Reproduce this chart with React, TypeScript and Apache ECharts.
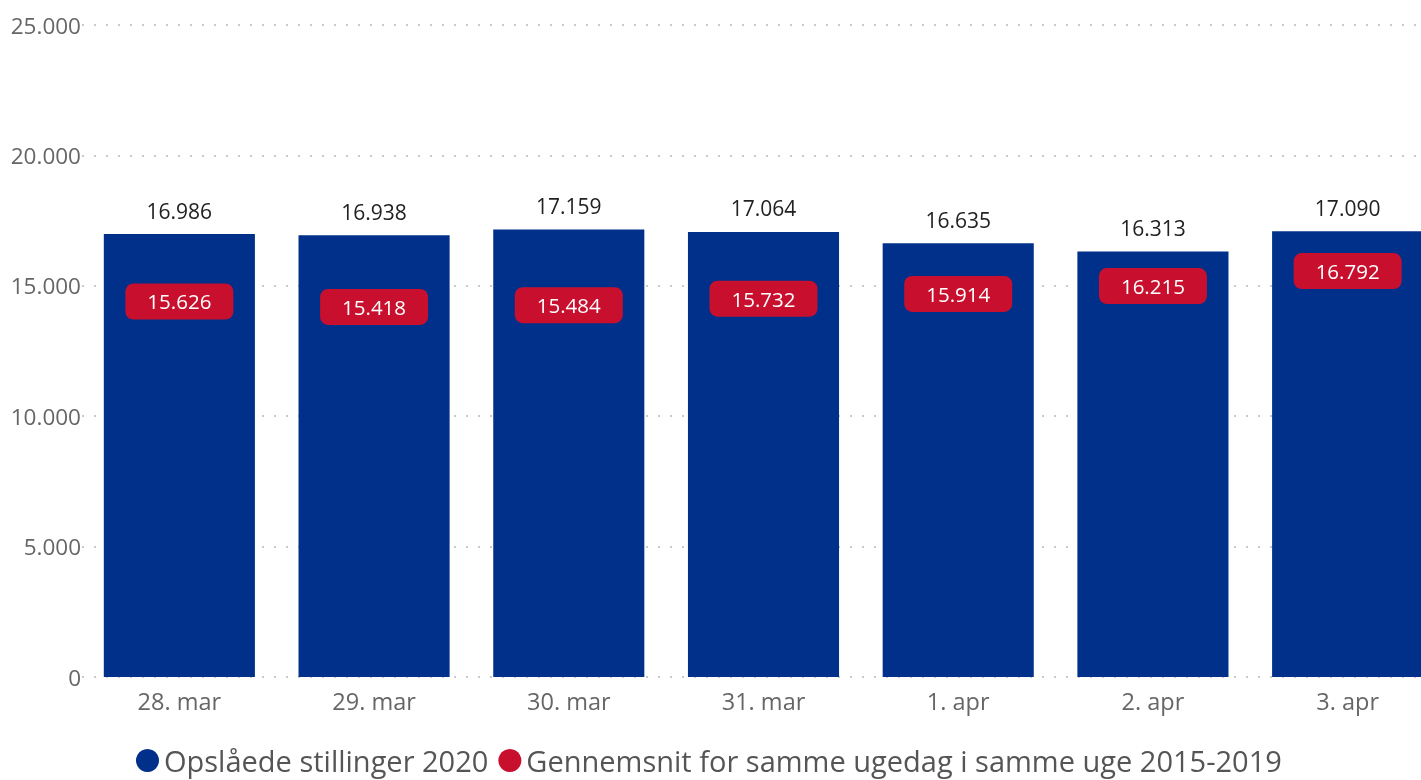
import React, { useEffect, useRef } from "react";
import * as echarts from "echarts";

const categories = ["28. mar", "29. mar", "30. mar", "31. mar", "1. apr", "2. apr", "3. apr"];
const postings2020 = [16986, 16938, 17159, 17064, 16635, 16313, 17090];
const average20152019 = [15626, 15418, 15484, 15732, 15914, 16215, 16792];
const seriesNames = ["Opslåede stillinger 2020", "Gennemsnit for samme ugedag i samme uge 2015-2019"];

const BLUE = "#00308A";
const RED = "#C8102E";
const FONT = "'Open Sans', 'Noto Sans', sans-serif";

const fmt = (v: number) => String(Math.round(v)).replace(/\B(?=(\d{3})+(?!\d))/g, ".");

export default function App() {
  const ref = useRef<HTMLDivElement>(null);
  useEffect(() => {
    if (!ref.current) return;
    const chart = echarts.init(ref.current, null, { renderer: "svg" });
    chart.setOption({
      animation: false,
      textStyle: { fontFamily: FONT },
      grid: { left: 82, top: 25, right: 0, bottom: 103, containLabel: false },
      legend: {
        bottom: 0,
        left: 131,
        icon: "circle",
        itemWidth: 23,
        itemHeight: 23,
        itemGap: 10,
        textStyle: { fontSize: 29, color: "#555", fontFamily: FONT },
        data: seriesNames,
      },
      xAxis: {
        type: "category",
        data: categories,
        axisLine: { show: false },
        axisTick: { show: false },
        axisLabel: { fontSize: 23.5, color: "#666", margin: 12, fontFamily: FONT },
      },
      yAxis: {
        type: "value",
        min: 0,
        max: 25000,
        interval: 5000,
        axisLine: { show: false },
        axisTick: { show: false },
        axisLabel: { fontSize: 22.5, color: "#666", margin: 1, formatter: (v: number) => fmt(v), fontFamily: FONT },
        splitLine: { lineStyle: { color: "#bbb", type: [2, 10], width: 1.5 } },
      },
      series: [
        {
          name: seriesNames[0],
          type: "bar",
          data: postings2020,
          barCategoryGap: "22.4%",
          itemStyle: { color: BLUE },
          label: {
            show: true,
            position: "top",
            distance: 13,
            fontSize: 21,
            color: "#222",
            fontFamily: FONT,
            formatter: (p: any) => fmt(p.value),
          },
        },
        {
          name: seriesNames[1],
          type: "line",
          data: average20152019,
          symbol: "circle",
          symbolSize: 0,
          showSymbol: true,
          itemStyle: { color: RED },
          lineStyle: { opacity: 0, width: 0 },
          z: 5,
          label: {
            show: true,
            position: "bottom",
            distance: 14,
            fontSize: 20.5,
            lineHeight: 24,
            color: "#fff",
            backgroundColor: RED,
            borderRadius: 8,
            padding: [6, 22],
            fontFamily: FONT,
            formatter: (p: any) => fmt(p.value),
          },
        },
      ],
    });
    return () => chart.dispose();
  }, []);
  return (
    <div style={{ position: "fixed", left: 0, top: 0, width: 1421, height: 780, overflow: "hidden" }}>
      <div ref={ref} style={{ width: 1445, height: 780 }} />
    </div>
  );
}
